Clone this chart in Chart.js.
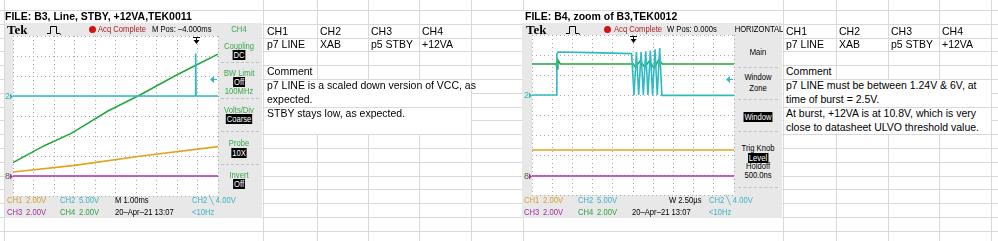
<!DOCTYPE html>
<html>
<head>
<meta charset="utf-8">
<title>B3 / B4 scope captures</title>
<script src="https://cdn.jsdelivr.net/npm/chart.js@4.4.1/dist/chart.umd.min.js"></script>
<style>
  body { margin:0; width:998px; height:241px; overflow:hidden; background:#fff; position:relative;
         font-family:"Liberation Sans", Arial, sans-serif; }
  .ln { position:absolute; background:#d9d9d9; z-index:0; }
  .cover { position:absolute; background:#fff; z-index:1; }
  .scope { position:absolute; background:#e8e8e8; z-index:2; }
  .strip { position:absolute; background:#fff; z-index:2; }
  canvas { position:absolute; z-index:3; }
  .t { position:absolute; white-space:nowrap; font-size:9px; line-height:10px; z-index:4;
       transform:scaleX(.85); transform-origin:0 50%; }
  .c { text-align:center; transform:translateX(-50%) scaleX(.85); transform-origin:50% 50%; }
  .inv { background:#000; color:#fff; padding:0 1px; }
  .cell { position:absolute; white-space:nowrap; font-size:10.5px; line-height:14px; color:#000; z-index:4; }
  .title { position:absolute; font-weight:bold; font-size:10.5px; line-height:13px; white-space:nowrap; z-index:4; }
  .tek { position:absolute; font-family:"Liberation Serif", serif; font-weight:bold; font-size:13px; line-height:13px; z-index:4; }
  .sep { position:absolute; height:0; border-top:1px dashed #c2c2c2; z-index:4; }
  .dot { position:absolute; width:7px; height:7px; border-radius:50%; background:#d01414; z-index:4; }
  svg { position:absolute; z-index:4; }
</style>
</head>
<body>

<div class="scope" style="left:5px;top:23px;width:257px;height:195px"></div>
<div class="strip" style="left:5px;top:11px;width:257px;height:12px"></div>
<div class="scope" style="left:522px;top:23px;width:260px;height:195px"></div>
<div class="strip" style="left:522px;top:11px;width:260px;height:12px"></div>

<canvas id="b3" width="215" height="164" style="left:5px;top:34px"></canvas>
<canvas id="b4" width="212" height="164" style="left:524px;top:33px"></canvas>

<svg style="left:47px;top:25px" width="16" height="10"><path d="M0 8.5H3.5V1.5H9.5V8.5H12.5L14 9.5" fill="none" stroke="#000" stroke-width="1"/></svg>
<svg style="left:566px;top:25px" width="16" height="10"><path d="M0 8.5H3.5V1.5H9.5V8.5H12.5L14 9.5" fill="none" stroke="#000" stroke-width="1"/></svg>

<script>
// trace values in screen divisions (x: -5..5, y: -4..4)

// B3 (TEK0011), 1.00ms/div
const b3Ch1X = [-5, -2.0, 1.26, 5];
const b3Ch1Y = [-2.8, -2.47, -2.0, -1.53];
const b3Ch2X = [-5, 3.89, 3.91, 3.93, 5];
const b3Ch2Y = [1.0, 1.0, 3.12, 1.0, 1.0];
const b3Ch3X = [-5, 5];
const b3Ch3Y = [-3.0, -3.0];
const b3Ch4X = [-5, -3.45, -2.16, -0.37, 1.26, 2.89, 3.94, 5];
const b3Ch4Y = [-2.33, -1.47, -0.87, 0.25, 1.09, 2.0, 2.55, 3.09];
const b3Trig = [3.91, 1.83];   // trigger position, trigger level
const b3Refs = [1.0, -3.0];    // CH2 marker, CH1/3/4 markers

// B4 (TEK0012), zoom of B3, 2.50us/div
const b4Ch1X = [-5, 5];
const b4Ch1Y = [-1.75, -1.75];
const b4Ch2X = [-5, -3.79, -3.77, -3.7, -2.0, -0.07, 0.05, 0.17, 0.28, 0.40, 0.51, 0.63, 0.74, 0.86, 0.97, 1.09, 1.20, 1.32, 1.43, 5];
const b4Ch2Y = [1.0, 1.0, 3.05, 3.15, 3.12, 3.07, 1.0, 3.15, 1.0, 3.15, 1.0, 3.18, 1.0, 3.22, 1.0, 3.28, 1.0, 3.35, 0.98, 0.98];
const b4Ch3X = [-5, 5];
const b4Ch3Y = [-3.05, -3.05];
const b4Ch4X = [-5, -3.8, -3.76, -3.72, -3.6, 0, 0.12, 0.35, 0.58, 0.81, 1.04, 1.27, 1.45, 5];
const b4Ch4Y = [2.55, 2.55, 2.3, 2.75, 2.55, 2.55, 2.4, 2.7, 2.4, 2.7, 2.35, 2.75, 2.55, 2.55];
const b4Trig = [0, 1.8];
const b4Refs = [1.0, -3.05];

const ch1 = "#e4a21c", ch2 = "#2fbac2", ch3 = "#b02cb0", ch4 = "#22a83a";

function pts(xs, ys) {
  return xs.map((x, i) => ({ x: x, y: ys[i] }));
}

function trace(xs, ys, color) {
  return { data: pts(xs, ys), borderColor: color, borderWidth: 1.6, pointRadius: 0, tension: 0, fill: false };
}

// white graticule, trigger marks and channel markers
const scopeDeco = {
  id: "scopeDeco",
  beforeDraw(chart) {
    const a = chart.chartArea, c = chart.ctx;
    c.save();
    c.fillStyle = "#fff";
    c.fillRect(a.left, a.top, a.right - a.left, a.bottom - a.top);
    c.restore();
  },
  afterDraw(chart, args, opts) {
    const c = chart.ctx, a = chart.chartArea;
    const sx = chart.scales.x, sy = chart.scales.y;
    c.save();
    // trigger position (top)
    let tx = Math.round(sx.getPixelForValue(opts.trig[0]));
    c.fillStyle = "#000";
    c.fillRect(tx - 3, a.top + 1, 7, 1);
    c.fillRect(tx, a.top + 1, 1, 4);
    c.beginPath(); c.moveTo(tx - 2.5, a.top + 4); c.lineTo(tx + 3.5, a.top + 4); c.lineTo(tx + 0.5, a.top + 8); c.fill();
    // trigger level (right edge)
    let ty = Math.round(sy.getPixelForValue(opts.trig[1]));
    c.fillStyle = ch2;
    c.beginPath(); c.moveTo(a.right - 8, ty + 0.5); c.lineTo(a.right - 4, ty - 3); c.lineTo(a.right - 4, ty + 4); c.fill();
    c.fillRect(a.right - 5, ty, 4, 1);
    // channel markers (left strip)
    c.font = "9px 'Liberation Sans'";
    c.textBaseline = "middle";
    let y2 = Math.round(sy.getPixelForValue(opts.refs[0]));
    c.fillText("2", a.left - 8, y2 + 0.5);
    c.beginPath(); c.moveTo(a.left - 3, y2 - 2.5); c.lineTo(a.left, y2 + 0.5); c.lineTo(a.left - 3, y2 + 3.5); c.fill();
    let yg = Math.round(sy.getPixelForValue(opts.refs[1]));
    c.fillStyle = "#5c5c30";
    c.fillText("8", a.left - 8, yg + 0.5);
    c.fillStyle = ch3;
    c.beginPath(); c.moveTo(a.left - 3, yg - 2.5); c.lineTo(a.left, yg + 0.5); c.lineTo(a.left - 3, yg + 3.5); c.fill();
    c.restore();
  }
};

function scopeChart(id, sets, trig, refs) {
  const axis = (min, max, fit) => ({
    type: "linear", min: min, max: max,
    ticks: { display: false, stepSize: 1 },
    grid: { color: "#a9a9a9", lineWidth: 1, drawTicks: false },
    border: { display: false, dash: [1, 3] },
    afterFit: fit
  });
  return new Chart(document.getElementById(id), {
    type: "line",
    data: { datasets: sets },
    options: {
      responsive: false,
      animation: false,
      layout: { padding: { left: 8, right: 2, top: 2, bottom: 2 } },
      plugins: { legend: { display: false }, tooltip: { enabled: false }, scopeDeco: { trig: trig, refs: refs } },
      scales: {
        x: axis(-5, 5, s => { s.height = 0; }),
        y: axis(-4, 4, s => { s.width = 0; })
      }
    },
    plugins: [scopeDeco]
  });
}

scopeChart("b3", [
  trace(b3Ch1X, b3Ch1Y, ch1),
  trace(b3Ch3X, b3Ch3Y, ch3),
  trace(b3Ch2X, b3Ch2Y, ch2),
  trace(b3Ch4X, b3Ch4Y, ch4)
], b3Trig, b3Refs);

scopeChart("b4", [
  trace(b4Ch1X, b4Ch1Y, ch1),
  trace(b4Ch3X, b4Ch3Y, ch3),
  trace(b4Ch2X, b4Ch2Y, ch2),
  trace(b4Ch4X, b4Ch4Y, ch4)
], b4Trig, b4Refs);

// ---- spreadsheet grid ----
const rowsY = [];
for (let k = 0; k < 17; k++) rowsY.push(Math.round(10 + 13.8 * k));
const colsX = [4, 263, 317, 368, 419, 471, 523, 783, 836, 888, 939, 991];

function box(cls, x, y, w, h) {
  const d = document.createElement("div");
  d.className = cls;
  d.style.cssText = "left:" + x + "px;top:" + y + "px;width:" + w + "px;height:" + h + "px";
  document.body.appendChild(d);
  return d;
}
rowsY.forEach(y => box("ln", 0, y, 998, 1));
colsX.forEach(x => box("ln", x, 0, 1, 241));
// merged comment cells
box("cover", 264, 80, 207, 27);
box("cover", 264, 108, 207, 26);
box("cover", 784, 80, 207, 27);
box("cover", 784, 108, 207, 26);

function put(x, yc, text, color, cls) {
  const s = document.createElement("div");
  s.className = "t" + (cls ? " " + cls : "");
  s.style.left = x + "px";
  s.style.top = (yc - 5) + "px";
  if (color) s.style.color = color;
  s.innerHTML = text;
  document.body.appendChild(s);
}
function cell(x, yc, text) {
  const s = document.createElement("div");
  s.className = "cell";
  s.style.left = x + "px";
  s.style.top = (yc - 7) + "px";
  s.textContent = text;
  document.body.appendChild(s);
}
function title(x, text) {
  const s = document.createElement("div");
  s.className = "title";
  s.style.left = x + "px";
  s.style.top = "10px";
  s.textContent = text;
  document.body.appendChild(s);
}
function tek(x) {
  const s = document.createElement("div");
  s.className = "tek";
  s.style.left = x + "px";
  s.style.top = "23px";
  s.textContent = "Tek";
  document.body.appendChild(s);
}
function sep(x, y, w) { box("sep", x, y, w, 0); }

const pg = "#3aa84c", acq = "#a82222", t1 = "#d9a030", t2 = "#3cb4c4", t3 = "#a0309c", t4 = "#2e9e40";

// ---- left capture ----
title(5, "FILE: B3, Line, STBY, +12VA,TEK0011");
tek(7);
box("dot", 89, 26, 7, 7);
put(98, 29, "Acq Complete", acq);
put(152, 29, "M Pos: \u20134.000ms", "#000");
put(239, 29, "CH4", pg, "c");
put(239, 46, "Coupling", pg, "c");
put(239, 55, "<span class='inv'>DC</span>", null, "c");
sep(221, 62, 38);
put(239, 73, "BW Limit", pg, "c");
put(239, 82, "<span class='inv'>Off</span>", null, "c");
put(239, 91, "100MHz", pg, "c");
sep(221, 98, 38);
put(239, 110, "Volts/Div", pg, "c");
put(239, 119, "<span class='inv'>Coarse</span>", null, "c");
sep(221, 131, 38);
put(239, 143, "Probe", pg, "c");
put(239, 153, "<span class='inv'>10X</span>", null, "c");
sep(221, 164, 38);
put(239, 175, "Invert", pg, "c");
put(239, 184, "<span class='inv'>Off</span>", null, "c");
put(7, 200, "CH1", t1); put(26, 200, "2.00V", t1);
put(60, 200, "CH2", t2); put(79, 200, "5.00V", t2);
put(115, 200, "M 1.00ms", "#000");
put(192, 200, "CH2 \u2572 4.00V", t2);
put(7, 212, "CH3", t3); put(26, 212, "2.00V", t3);
put(60, 212, "CH4", t4); put(79, 212, "2.00V", t4);
put(115, 212, "20\u2013Apr\u201321 13:07", "#000");
put(192, 212, "&lt;10Hz", t2);

// ---- right capture ----
title(525, "FILE: B4, zoom of B3,TEK0012");
tek(526);
box("dot", 604, 26, 7, 7);
put(614, 29, "Acq Complete", acq);
put(667, 29, "W Pos: 0.000s", "#000");
put(759, 29, "HORIZONTAL", "#000", "c");
put(758, 52, "Main", "#000", "c");
sep(738, 67, 40);
put(758, 77, "Window", "#000", "c");
put(758, 88, "Zone", "#000", "c");
sep(738, 99, 40);
put(758, 117, "<span class='inv'>Window</span>", null, "c");
sep(738, 131, 40);
put(758, 148, "Trig Knob", "#000", "c");
put(758, 158, "<span class='inv'>Level</span>", null, "c");
put(758, 166, "Holdoff", "#000", "c");
put(758, 175, "500.0ns", "#000", "c");
sep(738, 187, 40);
put(524, 200, "CH1", t1); put(543, 200, "2.00V", t1);
put(578, 200, "CH2", t2); put(597, 200, "5.00V", t2);
put(669, 200, "W 2.50\u00b5s", "#000");
put(709, 200, "CH2 \u2572 4.00V", t2);
put(524, 212, "CH3", t3); put(543, 212, "2.00V", t3);
put(578, 212, "CH4", t4); put(597, 212, "2.00V", t4);
put(632, 212, "20\u2013Apr\u201321 13:07", "#000");
put(709, 212, "&lt;10Hz", t2);

// ---- cell text ----
[["CH1", "CH2", "CH3", "CH4"], ["p7 LINE", "XAB", "p5 STBY", "+12VA"]].forEach((row, r) => {
  row.forEach((txt, i) => {
    cell([267, 320, 371, 422][i], 31 + 13 * r, txt);
    cell([786, 839, 891, 942][i], 31 + 13 * r, txt);
  });
});
cell(267, 71, "Comment");
cell(267, 85, "p7 LINE is a scaled down version of VCC, as");
cell(267, 99, "expected.");
cell(267, 113, "STBY stays low, as expected.");
cell(786, 71, "Comment");
cell(786, 85, "p7 LINE must be between 1.24V & 6V, at");
cell(786, 99, "time of burst = 2.5V.");
cell(786, 113, "At burst, +12VA is at 10.8V, which is very");
cell(786, 127, "close to datasheet ULVO threshold value.");
</script>
</body>
</html>
